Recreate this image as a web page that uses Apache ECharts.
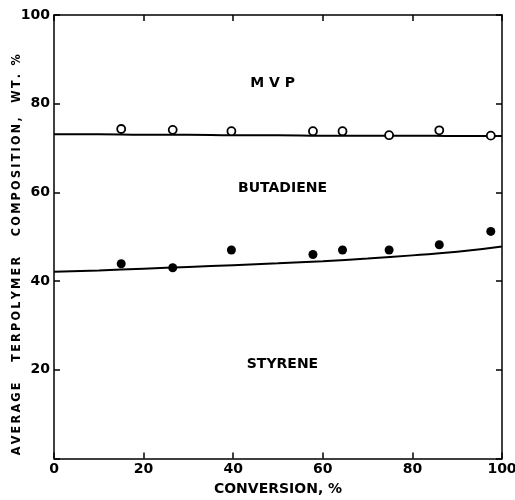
<!DOCTYPE html>
<html>
<head>
<meta charset="utf-8">
<script src="https://cdn.jsdelivr.net/npm/echarts@6/dist/echarts.min.js"></script>
<style>html,body{margin:0;padding:0;background:#fff}#c{width:515px;height:500px}</style>
</head>
<body>
<div id="c"></div>
<script>
const conversion = [15, 26.5, 39.6, 57.8, 64.4, 74.8, 86, 97.5];
const mvpPoints = [74.3, 74.1, 73.8, 73.8, 73.8, 72.9, 74.0, 72.8];
const styrenePoints = [43.9, 43.0, 47.0, 46.0, 47.0, 47.0, 48.2, 51.2];
const curveX = [0, 10, 20, 30, 40, 50, 60, 70, 80, 90, 100];
const mvpCurve = [73.1, 73.1, 73.0, 73.0, 72.9, 72.9, 72.8, 72.8, 72.8, 72.7, 72.7];
const styreneCurve = [42.1, 42.4, 42.8, 43.2, 43.6, 44.0, 44.5, 45.1, 45.8, 46.6, 47.8];
const regionNames = ['M V P', 'BUTADIENE', 'STYRENE'];
const regionX = [48.8, 51, 51];
const regionY = [84.6, 61, 21.3];
const xTicks = ['0', '20', '40', '60', '80', '100'];
const yTicks = ['20', '40', '60', '80', '100'];
const xTitle = 'CONVERSION, %';
const yTitle = 'AVERAGE   TERPOLYMER   COMPOSITION,  WT. %';

const font = 'DejaVu Sans';
const spaced = s => s.split('').join('\u2009');
const chart = echarts.init(document.getElementById('c'), null, {renderer: 'canvas'});
const axisCommon = {
  type: 'value', min: 0, max: 100, interval: 20,
  axisLine: {show: true, onZero: false, lineStyle: {color: '#000', width: 1.5}},
  axisTick: {show: true, inside: true, length: 6, lineStyle: {color: '#000', width: 1.5}},
  splitLine: {show: false}
};
chart.setOption({
  backgroundColor: '#fff',
  animation: false,
  grid: {left: 54, right: 13, top: 15, bottom: 41.5, outerBoundsMode: 'none', containLabel: false},
  xAxis: [
    Object.assign({}, axisCommon, {
      position: 'bottom',
      name: xTitle, nameLocation: 'middle', nameGap: 24, nameMoveOverlap: false,
      nameTextStyle: {fontFamily: font, fontWeight: 'bold', fontSize: 14, color: '#000'},
      axisLabel: {fontFamily: font, fontWeight: 'bold', fontSize: 14, color: '#000', margin: 4,
        formatter: v => xTicks.includes(String(v)) ? String(v) : ''}
    }),
    Object.assign({}, axisCommon, {position: 'top', axisLabel: {show: false}})
  ],
  yAxis: [
    Object.assign({}, axisCommon, {
      position: 'left',
      name: spaced(yTitle), nameLocation: 'middle', nameGap: 31, nameMoveOverlap: false,
      nameTextStyle: {fontFamily: 'DejaVu Sans Condensed', fontWeight: 'bold', fontSize: 12.5, color: '#000',
        padding: [0, 36, 0, 0]},
      axisLabel: {fontFamily: font, fontWeight: 'bold', fontSize: 14, color: '#000', margin: 4,
        formatter: v => yTicks.includes(String(v)) ? String(v) : ''}
    }),
    Object.assign({}, axisCommon, {position: 'right', axisLabel: {show: false}})
  ],
  series: [
    {type: 'line', data: curveX.map((x, i) => [x, mvpCurve[i]]), smooth: true, symbol: 'none',
      lineStyle: {color: '#000', width: 2}},
    {type: 'line', data: curveX.map((x, i) => [x, styreneCurve[i]]), smooth: true, symbol: 'none',
      lineStyle: {color: '#000', width: 2}},
    {type: 'scatter', data: conversion.map((x, i) => [x, mvpPoints[i]]), symbol: 'circle', symbolSize: 8,
      itemStyle: {color: '#fff', borderColor: '#000', borderWidth: 1.8, opacity: 1}, z: 5},
    {type: 'scatter', data: conversion.map((x, i) => [x, styrenePoints[i]]), symbol: 'circle', symbolSize: 9,
      itemStyle: {color: '#000', opacity: 1}, z: 5},
    {type: 'scatter', data: regionNames.map((n, i) => ({name: n, value: [regionX[i], regionY[i]]})),
      symbolSize: 0, silent: true, itemStyle: {opacity: 1},
      label: {show: true, position: 'inside', formatter: '{b}', fontFamily: font, fontWeight: 'bold',
        fontSize: 14, color: '#000'}}
  ]
});
</script>
</body>
</html>
